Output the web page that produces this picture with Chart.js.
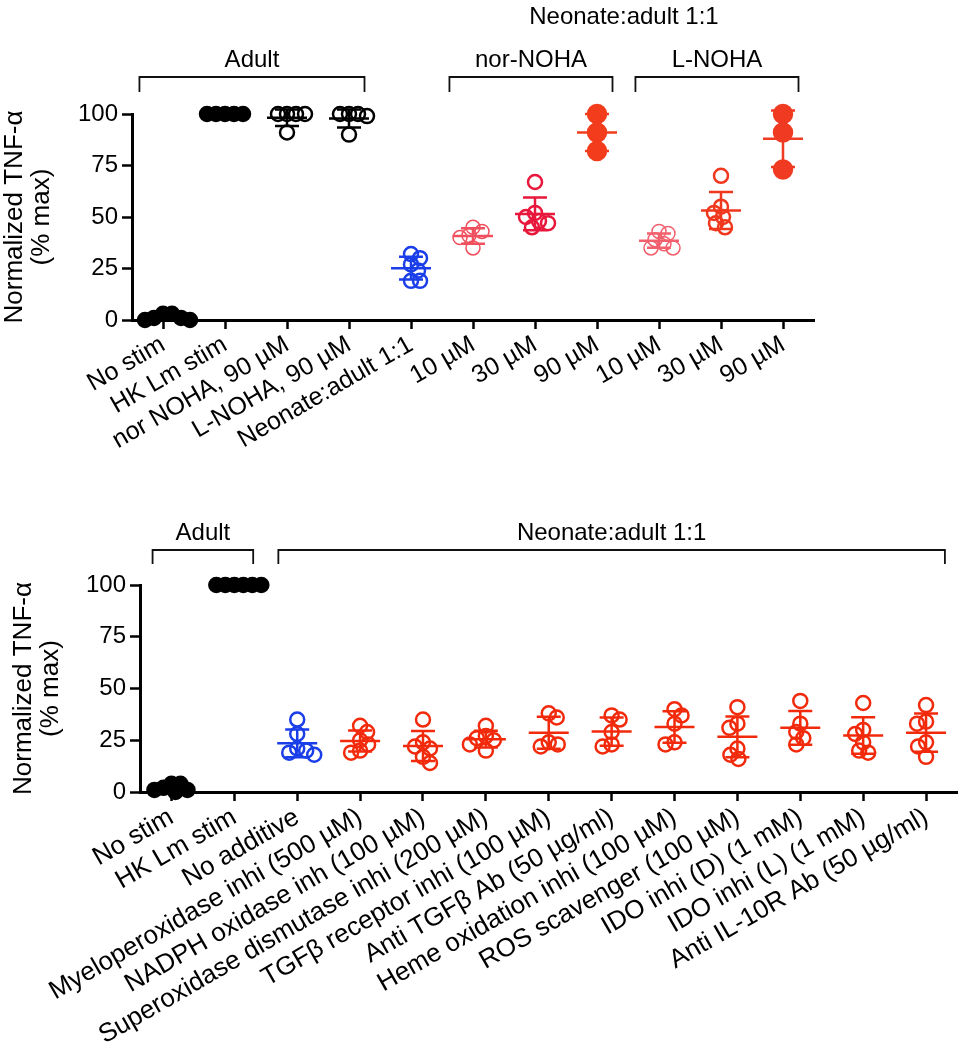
<!DOCTYPE html>
<html>
<head>
<meta charset="utf-8">
<script src="https://cdn.jsdelivr.net/npm/chart.js@4.4.0/dist/chart.umd.min.js"></script>
<style>
  body { margin: 0; background: #fff; }
  #wrap { position: relative; width: 967px; height: 1050px; }
  canvas { position: absolute; left: 0; }
</style>
</head>
<body>
<div id="wrap">
  <canvas id="top-chart" width="967" height="500" style="top:0"></canvas>
  <canvas id="bottom-chart" width="967" height="550" style="top:500px"></canvas>
</div>
<script>
// ---- top panel data (Normalized TNF-a, % max) ----
const topLabels = ['No stim', 'HK Lm stim', 'nor NOHA, 90 µM', 'L-NOHA, 90 µM', 'Neonate:adult 1:1',
    '10 µM', '30 µM', '90 µM', '10 µM', '30 µM', '90 µM']
const topNoStim = [3, 3, 1, 0, 0, 1]
const topHK = [100, 100, 100, 100, 100]
const topNorNoha90 = [100, 100, 100, 100, 91]
const topLNoha90 = [100, 100, 100, 99, 90]
const topNeonate = [32, 30, 27, 24, 19, 19]
const topNor10 = [45, 43, 41, 40, 35]
const topNor30 = [67, 52, 50, 48, 47, 45]
const topNor90 = [100, 91, 82]
const topL10 = [43, 42, 39, 37, 35, 35]
const topL30 = [70, 55, 52, 50, 47, 45]
const topL90 = [100, 91, 73]
const topGroups = [topNoStim, topHK, topNorNoha90, topLNoha90, topNeonate,
    topNor10, topNor30, topNor90, topL10, topL30, topL90]

// ---- bottom panel data ----
const bottomLabels = ['No stim', 'HK Lm stim', 'No additive', 'Myeloperoxidase inhi (500 µM)',
    'NADPH oxidase inh (100 µM)', 'Superoxidase dismutase inhi (200 µM)', 'TGFβ receptor inhi (100 µM)',
    'Anti TGFβ Ab (50 µg/ml)', 'Heme oxidation inhi (100 µM)', 'ROS scavenger (100 µM)',
    'IDO inhi (D) (1 mM)', 'IDO inhi (L) (1 mM)', 'Anti IL-10R Ab (50 µg/ml)']
const botNoStim = [4, 4, 2, 1, 0, 1]
const botHK = [100, 100, 100, 100, 100, 100]
const botNoAdditive = [35, 28, 21, 20, 19, 18]
const botMyelo = [32, 29, 25, 23, 20, 19]
const botNadph = [35, 24, 22, 21, 17, 14]
const botSuperox = [32, 27, 26, 25, 23, 20]
const botTgfbRec = [38, 36, 24, 23, 22]
const botAntiTgfb = [37, 35, 29, 23, 22]
const botHeme = [40, 37, 33, 24, 23]
const botRos = [41, 33, 31, 21, 18, 16]
const botIdoD = [44, 33, 29, 26, 23]
const botIdoL = [43, 30, 28, 24, 20, 19]
const botIl10r = [42, 34, 33, 24, 22, 17]
const bottomGroups = [botNoStim, botHK, botNoAdditive, botMyelo, botNadph, botSuperox, botTgfbRec,
    botAntiTgfb, botHeme, botRos, botIdoD, botIdoL, botIl10r]

const yTicks = [0, 25, 50, 75, 100]

// ---- styles ----
const BLUE = '#1a3ee8'
const RED = '#f22a0c'
const topColors = ['#000', '#000', '#000', '#000', BLUE, '#f0505e', '#e8173c', '#f23c1c', '#f2606e', '#f0381e', '#f03a22']
const topFilled = [true, true, false, false, false, false, false, true, false, false, true]
const topRadius = [7, 7, 7, 7, 7, 7, 7, 9, 7, 7, 9]
const topStroke = [2.5, 2.5, 2.5, 2.5, 2.5, 1.5, 2.5, 2.5, 1.5, 2.5, 2.5]
const bottomColors = ['#000', '#000', BLUE].concat(Array(10).fill(RED))
const bottomFilled = [true, true].concat(Array(11).fill(false))

Chart.defaults.font.family = '"Liberation Sans", Arial, sans-serif'
Chart.defaults.font.size = 25
Chart.defaults.color = '#000'

// mean line + SD whiskers on each group
const meanSdPlugin = {
    id: 'meanSd',
    afterDatasetsDraw(chart) {
        const ctx = chart.ctx
        const xs = chart.scales.x, ys = chart.scales.y
        chart.data.datasets.forEach((ds, i) => {
            const vals = ds.data.map(p => p.y)
            const n = vals.length
            const mean = vals.reduce((a, b) => a + b, 0) / n
            const sd = Math.sqrt(vals.reduce((a, b) => a + (b - mean) ** 2, 0) / (n - 1))
            const cx = xs.getPixelForValue(i)
            const yM = ys.getPixelForValue(mean)
            const yHi = ys.getPixelForValue(mean + sd)
            const yLo = ys.getPixelForValue(mean - sd)
            ctx.save()
            ctx.strokeStyle = ds.borderColor
            ctx.lineWidth = 2.5
            ctx.beginPath()
            ctx.moveTo(cx - 20, yM); ctx.lineTo(cx + 20, yM)
            if (sd > 0) {
                ctx.moveTo(cx, yHi); ctx.lineTo(cx, yLo)
                ctx.moveTo(cx - 12, yHi); ctx.lineTo(cx + 12, yHi)
                ctx.moveTo(cx - 12, yLo); ctx.lineTo(cx + 12, yLo)
            }
            ctx.stroke()
            ctx.restore()
        })
    }
}

// group brackets above the plot
const bracketPlugin = {
    id: 'brackets',
    afterDraw(chart, args, opts) {
        const ctx = chart.ctx
        const xs = chart.scales.x
        const top = chart.chartArea.top
        ctx.save()
        ctx.font = '24px "Liberation Sans", Arial, sans-serif'
        ctx.fillStyle = '#000'
        ctx.strokeStyle = '#111'
        ctx.lineWidth = 1.8
        ctx.textAlign = 'center'
        ctx.textBaseline = 'middle'
        opts.items.forEach(b => {
            const x0 = xs.getPixelForValue(b.from - opts.padL)
            const x1 = xs.getPixelForValue(b.to + opts.padR)
            const yb = top - opts.rise - (b.level || 0) * opts.levelStep
            if (b.line !== false) {
                ctx.beginPath()
                ctx.moveTo(x0, yb + opts.leg)
                ctx.lineTo(x0, yb)
                ctx.lineTo(x1, yb)
                ctx.lineTo(x1, yb + opts.leg)
                ctx.stroke()
            }
            ctx.fillText(b.text, (x0 + x1) / 2, yb - opts.gap)
        })
        ctx.restore()
    }
}

function makeDatasets(groups, colors, filled, radius, stroke) {
    return groups.map((vals, i) => ({
        data: vals.map(v => ({x: i, y: v})),
        borderColor: colors[i],
        backgroundColor: filled[i] ? colors[i] : 'rgba(0,0,0,0)',
        pointRadius: radius ? radius[i] : 7,
        pointBorderWidth: stroke ? stroke[i] : 2.5,
        pointHoverRadius: 7,
        clip: false
    }))
}

function makeChart(id, labels, datasets, cfg) {
    return new Chart(document.getElementById(id), {
        type: 'scatter',
        data: {datasets: datasets},
        options: {
            responsive: false,
            animation: false,
            layout: {padding: {top: cfg.top, right: cfg.right, left: 0, bottom: 0}},
            plugins: {
                legend: {display: false},
                tooltip: {enabled: false},
                brackets: cfg.brackets
            },
            scales: {
                x: {
                    type: 'linear',
                    min: -0.5,
                    max: labels.length - 0.5,
                    afterBuildTicks: s => { s.ticks = labels.map((l, i) => ({value: i})) },
                    afterFit: s => { s.height = cfg.xHeight },
                    ticks: {
                        autoSkip: false,
                        minRotation: 30,
                        maxRotation: 30,
                        padding: 1,
                        font: {size: cfg.xFont},
                        callback: v => labels[v]
                    },
                    grid: {drawOnChartArea: false, tickLength: 9, tickWidth: 2.5, tickColor: '#000'},
                    border: {color: '#000', width: 3}
                },
                y: {
                    min: 0,
                    max: 100,
                    afterBuildTicks: s => { s.ticks = yTicks.map(v => ({value: v})) },
                    afterFit: s => { s.width = cfg.yWidth },
                    ticks: {padding: 4, font: {size: 24}},
                    grid: {drawOnChartArea: false, tickLength: 10, tickWidth: 2.5, tickColor: '#000'},
                    border: {color: '#000', width: 3},
                    title: {
                        display: true,
                        text: ['Normalized TNF-α', '(% max)'],
                        font: {size: 26, lineHeight: 1.02},
                        padding: {top: cfg.titlePad, bottom: 0}
                    }
                }
            }
        },
        plugins: [meanSdPlugin, bracketPlugin]
    })
}

// spread overlapping points sideways (deterministic beeswarm)
function swarm(chart, minDist) {
    const xs = chart.scales.x, ys = chart.scales.y
    const unit = xs.getPixelForValue(1) - xs.getPixelForValue(0)
    chart.data.datasets.forEach((ds, i) => {
        const placed = []
        const order = ds.data.map((p, k) => k).sort((a, b) => ds.data[b].y - ds.data[a].y)
        order.forEach((k, n) => {
            const py = ys.getPixelForValue(ds.data[k].y)
            let off = 0
            for (let s = 0; s < 60; s++) {
                const cands = n % 2 ? [s, -s] : [-s, s]
                const hit = cands.find(c => placed.every(p => Math.hypot(p.x - c, p.y - py) >= minDist))
                if (hit !== undefined) { off = hit; break }
            }
            placed.push({x: off, y: py})
            ds.data[k].x = i + off / unit
        })
    })
    chart.update('none')
}

const topChart = makeChart('top-chart', topLabels,
    makeDatasets(topGroups, topColors, topFilled, topRadius, topStroke), {
        top: 114, right: 153, xHeight: 180, yWidth: 132, titlePad: 2, xFont: 25,
        brackets: {
            padL: 0.38, padR: 0.25, rise: 37, leg: 15, gap: 17, levelStep: 43,
            items: [
                {from: 0, to: 3, text: 'Adult'},
                {from: 5, to: 7, text: 'nor-NOHA'},
                {from: 8, to: 10, text: 'L-NOHA'},
                {from: 5, to: 10, text: 'Neonate:adult 1:1', line: false, level: 1}
            ]
        }
    })

const bottomChart = makeChart('bottom-chart', bottomLabels,
    makeDatasets(bottomGroups, bottomColors, bottomFilled), {
        top: 85, right: 6, xHeight: 258, yWidth: 140, titlePad: 11, xFont: 26,
        brackets: {
            padL: 0.3, padR: 0.3, rise: 35, leg: 14, gap: 17, levelStep: 0,
            items: [
                {from: 0, to: 1, text: 'Adult'},
                {from: 2, to: 12, text: 'Neonate:adult 1:1'}
            ]
        }
    })

swarm(topChart, 9)
swarm(bottomChart, 9)
</script>
</body>
</html>
